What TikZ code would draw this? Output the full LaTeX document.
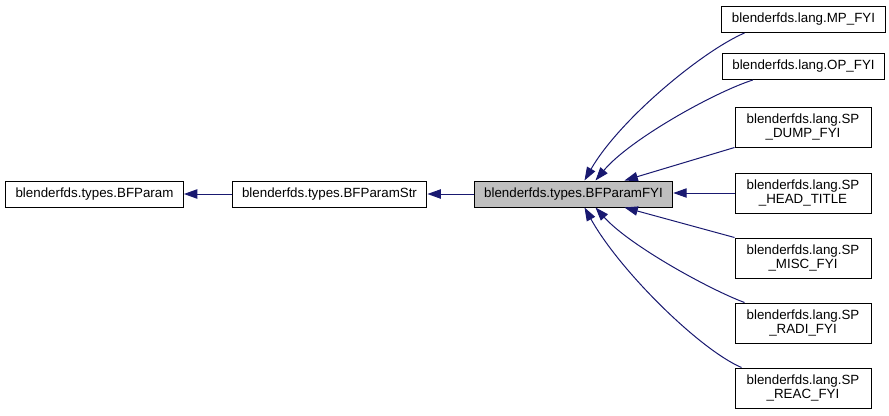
\documentclass[tikz,border=0pt]{standalone}
\usepackage{fontspec}
\setmainfont{Liberation Sans}
\usetikzlibrary{arrows.meta,positioning,calc}
\definecolor{edgeblue}{HTML}{191970}
\definecolor{curgray}{HTML}{BFBFBF}
\tikzset{
  % class box, one line of text
  cls/.style  = {rectangle, draw=black, line width=0.75pt, fill=white, align=center,
                 font=\fontsize{10}{11}\selectfont, inner xsep=7.5pt, inner ysep=0pt,
                 minimum height=19.5pt},
  % class box, name broken over two lines
  cls2/.style = {cls, minimum width=102pt, minimum height=30pt},
  cur/.style  = {cls, fill=curgray},
  inh/.style  = {-{Triangle[length=10pt,width=7pt]}, edgeblue, line width=0.75pt},
}

\begin{document}
\begin{tikzpicture}[x=0.75pt,y=-0.75pt]
\useasboundingbox (0,0) rectangle (889,415);
% ---- base chain -----------------------------------------------------
\node[cls] (param) at (94.5,194) {blenderfds.types.BFParam};
\node[cls] (str)   at (329.5,194) {blenderfds.types.BFParamStr};
\node[cur] (fyi)   at (573.5,194) {blenderfds.types.BFParamFYI};

% ---- derived classes ------------------------------------------------
\node[cls]  (mp)   at (803.5,19.5) {blenderfds.lang.MP\_FYI};
\node[cls]  (op)   at (803.5,66.5) {blenderfds.lang.OP\_FYI};
\node[cls2] (dump) at (803,127) {blenderfds.lang.SP\\\_DUMP\_FYI};
\node[cls2] (head) at (803,193) {blenderfds.lang.SP\\\_HEAD\_TITLE};
\node[cls2] (misc) at (803,258) {blenderfds.lang.SP\\\_MISC\_FYI};
\node[cls2] (radi) at (803,323) {blenderfds.lang.SP\\\_RADI\_FYI};
\node[cls2] (reac) at (803,388) {blenderfds.lang.SP\\\_REAC\_FYI};

% ---- inheritance ----------------------------------------------------
\draw[inh] (str) -- (param);
\draw[inh] (fyi) -- (str);
\draw[inh] ($(mp.south west)+(23,0)$) .. controls +(-42,18) and +(35,-61) .. ($(fyi.north)+(11,0)$);
\draw[inh] ($(op.south west)+(31,0)$) .. controls +(-38,12) and +(34,-41) .. ($(fyi.north)+(22,0)$);
\draw[inh] (dump.south west) -- ($(fyi.north)+(51,0)$);
\draw[inh] (head.west) -- (fyi.east |- head.west);
\draw[inh] (misc.north west) -- ($(fyi.south)+(51,0)$);
\draw[inh] ($(radi.north west)+(10,0)$) .. controls +(-35,-13) and +(34,38) .. ($(fyi.south)+(22,0)$);
\draw[inh] ($(reac.north west)+(7,0)$) .. controls +(-42,-18) and +(35,63) .. ($(fyi.south)+(11,0)$);
\end{tikzpicture}
\end{document}
